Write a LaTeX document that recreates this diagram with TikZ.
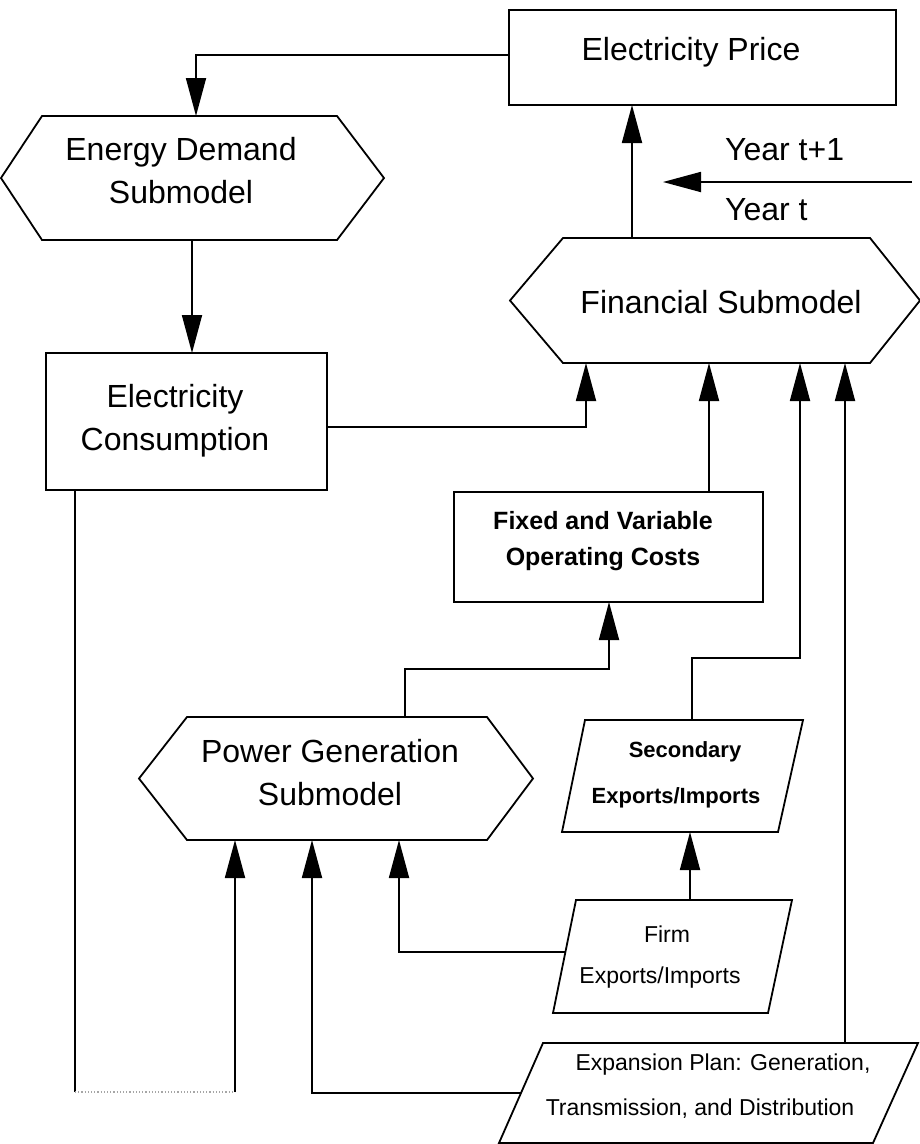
\documentclass[tikz,border=0pt]{standalone}
\usepackage{fontspec}
\setmainfont{Liberation Sans}
\usetikzlibrary{arrows.meta,calc}
\begin{document}
\begin{tikzpicture}[x=1pt,y=-1pt,
  box/.style={rectangle,draw=none,inner sep=0pt,outer sep=0pt},
  rbox/.style={rectangle,draw=black,line width=1.8pt,inner sep=0pt,outer sep=0pt},
  outline/.style={draw=black,line width=1.8pt,line join=miter},
  conn/.style={draw=black,line width=1.8pt},
  arr/.style={conn,-{Triangle[length=38pt,width=20pt]}},
  big/.style={font=\fontsize{32}{43}\selectfont,align=center,inner sep=0pt},
  midb/.style={font=\bfseries\fontsize{25}{36}\selectfont,align=center,inner sep=0pt},
  smb/.style={font=\bfseries\fontsize{22}{46}\selectfont,align=center,inner sep=0pt},
  sm/.style={font=\fontsize{23}{41}\selectfont,align=center,inner sep=0pt},
  smx/.style={font=\fontsize{23}{45}\selectfont,align=center,inner sep=0pt}
]
\useasboundingbox (0,0) rectangle (919,1144);

% shape nodes
\node[rbox,minimum width=387pt,minimum height=95pt] (price) at (702.5,57.5) {};
\node[box,minimum width=383pt,minimum height=124pt] (ed) at (192.5,178) {};
\node[box,minimum width=410pt,minimum height=125pt] (fin) at (715,300.5) {};
\node[rbox,minimum width=281pt,minimum height=137pt] (cons) at (186.5,421.5) {};
\node[rbox,minimum width=309pt,minimum height=110pt] (fix) at (608.5,547) {};
\node[box,minimum width=394pt,minimum height=123pt] (pg) at (336,778.5) {};
\node[box,minimum width=241pt,minimum height=112pt] (sec) at (682.5,776) {};
\node[box,minimum width=239pt,minimum height=113pt] (firm) at (672.5,956.5) {};
\node[box,minimum width=419pt,minimum height=100pt] (exp) at (708.5,1093) {};

% outlines
\draw[outline] (ed.west) -- ([xshift=41pt]ed.north west) -- ([xshift=-47pt]ed.north east) -- (ed.east) -- ([xshift=-47pt]ed.south east) -- ([xshift=41pt]ed.south west) -- cycle;
\draw[outline] (fin.west) -- ([xshift=53pt]fin.north west) -- ([xshift=-50pt]fin.north east) -- (fin.east) -- ([xshift=-50pt]fin.south east) -- ([xshift=53pt]fin.south west) -- cycle;
\draw[outline] (pg.west) -- ([xshift=48pt]pg.north west) -- ([xshift=-46pt]pg.north east) -- (pg.east) -- ([xshift=-46pt]pg.south east) -- ([xshift=48pt]pg.south west) -- cycle;
\draw[outline] ([xshift=23pt]sec.north west) -- (sec.north east) -- ([xshift=-25pt]sec.south east) -- (sec.south west) -- cycle;
\draw[outline] ([xshift=23pt]firm.north west) -- (firm.north east) -- ([xshift=-24pt]firm.south east) -- (firm.south west) -- cycle;
\draw[outline] ([xshift=44pt]exp.north west) -- (exp.north east) -- ([xshift=-45pt]exp.south east) -- (exp.south west) -- cycle;

% texts
\node[big] (pricet) at (691,52) {Electricity Price};
\node[big] (edt) at (181,171) {Energy Demand\\Submodel};
\node[big] (fint) at (721,302) {Financial Submodel};
\node[big] (const) at (175,421) {Electricity\\Consumption};
\node[midb] (fixt) at (603,541) {Fixed and Variable\\Operating Costs};
\node[big] (pgt) at (330,773) {Power Generation\\Submodel};
\node[smb] (sect) at (676,775) {\hspace*{18pt}Secondary\\Exports/Imports};
\node[sm] (firmt) at (660,957) {\hspace*{14pt}Firm\\Exports/Imports};
\node[smx] (expt) at (700,1086) {\hspace*{46pt}Expansion Plan: Generation,\\Transmission, and Distribution};
\node[big,anchor=west] (yt1) at (725,150) {Year t+1};
\node[big,anchor=west] (yt) at (725,210) {Year t};

% year arrow
\coordinate (ys) at (912,182);
\coordinate (ye) at (663,182);
\draw[arr] (ys) -- (ye);

% connectors
\draw[arr] ([yshift=2.5pt]price.west) -| (196,0 |- ed.north);
\draw[arr] (192,0 |- ed.south) -- (192,0 |- cons.north);
\draw[arr] ([yshift=-5.5pt]cons.east) -| (586,0 |- fin.south);
\draw[arr] (632,0 |- fin.north) -- (632,0 |- price.south);
\draw[arr] (709,0 |- fix.north) -- (709,0 |- fin.south);
\draw[arr] (405,0 |- pg.north) |- (609,669) -- (609,0 |- fix.south);
\draw[arr] (692,0 |- sec.north) |- (800,658) -- (800,0 |- fin.south);
\draw[arr] (845,0 |- exp.north) -- (845,0 |- fin.south);
\draw[arr] (690,0 |- firm.north) -- (690,0 |- sec.south);
\draw[arr] ([xshift=11.5pt,yshift=4.5pt]firm.west) -| (399,0 |- pg.south);
\draw[arr] ([xshift=22pt]exp.west) -| (312,0 |- pg.south);
\draw[conn] (75,0 |- cons.south) -- (75,1092);
\draw[draw=black!35,line width=1.2pt,dotted] (75,1092) -- (235,1092);
\draw[arr] (235,1092) -- (235,0 |- pg.south);
\end{tikzpicture}
\end{document}
